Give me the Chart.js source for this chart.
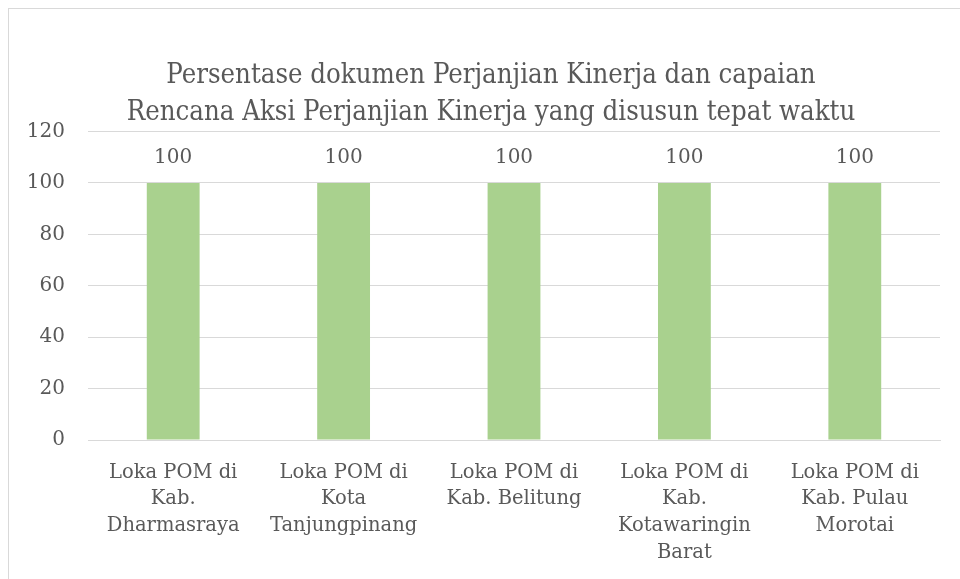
<!DOCTYPE html>
<html>
<head>
<meta charset="utf-8">
<script src="https://cdn.jsdelivr.net/npm/chart.js@4.4.1/dist/chart.umd.min.js"></script>
<style>
    html, body { margin: 0; padding: 0; background: #fff; overflow: hidden; }
    #frame { position: absolute; left: 8px; top: 8px; width: 1000px; height: 620px; border: 1px solid #d9d9d9; box-sizing: border-box; }
    #wrap { position: absolute; left: 0; top: 0; width: 960px; height: 579px; }
</style>
</head>
<body>
<div id="frame"></div>
<div id="wrap"><canvas id="chart" width="960" height="579"></canvas></div>
<script>
// Chart data
const chartTitle = ['Persentase dokumen Perjanjian Kinerja dan capaian', 'Rencana Aksi Perjanjian Kinerja yang disusun tepat waktu'];
const categories = [
    ['Loka POM di', 'Kab.', 'Dharmasraya'],
    ['Loka POM di', 'Kota', 'Tanjungpinang'],
    ['Loka POM di', 'Kab. Belitung'],
    ['Loka POM di', 'Kab.', 'Kotawaringin', 'Barat'],
    ['Loka POM di', 'Kab. Pulau', 'Morotai']
];
const values = [100, 100, 100, 100, 100];
const yTicks = [0, 20, 40, 60, 80, 100, 120];

const textColor = '#595959';
const serif = "'DejaVu Serif', 'Liberation Serif', serif";

// Draw the value above each bar
const valueLabels = {
    id: 'valueLabels',
    afterDatasetsDraw(chart) {
        const ctx = chart.ctx;
        const meta = chart.getDatasetMeta(0);
        ctx.save();
        ctx.font = '20px ' + serif;
        ctx.fillStyle = textColor;
        ctx.textAlign = 'center';
        ctx.textBaseline = 'middle';
        meta.data.forEach((bar, i) => {
            ctx.fillText(String(values[i]), bar.x, bar.y - 25);
        });
        ctx.restore();
    }
};

const ctx = document.getElementById('chart').getContext('2d');
new Chart(ctx, {
    type: 'bar',
    data: {
        labels: categories,
        datasets: [{
            data: values,
            backgroundColor: '#a9d18e',
            borderWidth: 0,
            categoryPercentage: 1,
            barPercentage: 0.31
        }]
    },
    options: {
        responsive: false,
        animation: false,
        layout: { padding: { left: 28, right: 6, top: 8, bottom: 13 } },
        plugins: {
            legend: { display: false },
            tooltip: { enabled: false },
            title: {
                display: true,
                text: chartTitle,
                color: textColor,
                font: { family: "'DejaVu Serif Condensed', " + serif, size: 27.3, weight: 'normal', lineHeight: 1.355 },
                padding: { top: 49.5, bottom: 0 }
            }
        },
        scales: {
            x: {
                afterFit(scale) {
                    scale.height = 126;
                },
                grid: { display: false },
                border: { color: '#d9d9d9', width: 1 },
                ticks: {
                    color: textColor,
                    font: { family: serif, size: 19.5, lineHeight: 1.38 },
                    padding: 11,
                    maxRotation: 0,
                    autoSkip: false
                }
            },
            y: {
                min: 0,
                max: 120,
                afterBuildTicks(scale) {
                    scale.ticks = yTicks.map(v => ({ value: v }));
                },
                afterFit(scale) {
                    scale.width = 60;
                },
                grid: { color: '#d9d9d9', lineWidth: 1, drawTicks: false },
                border: { display: false },
                ticks: {
                    color: textColor,
                    font: { family: serif, size: 20 },
                    padding: 23
                }
            },
            // empty right-hand spacer so the title sits where it does in the original
            spacer: {
                position: 'right',
                min: 0,
                max: 120,
                afterFit(scale) {
                    scale.width = 14;
                },
                grid: { display: false },
                border: { display: false },
                ticks: { display: false }
            }
        }
    },
    plugins: [valueLabels]
});
</script>
</body>
</html>
